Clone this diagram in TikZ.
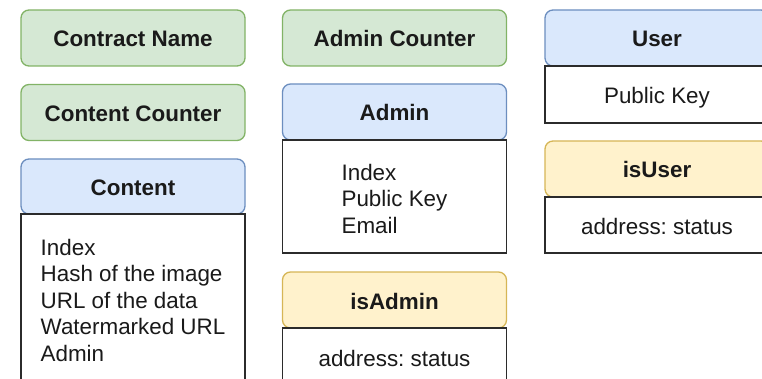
\documentclass[tikz,border=0pt]{standalone}
\usepackage{fontspec}
\setmainfont{Liberation Sans}
\definecolor{gfill}{HTML}{D5E8D4}
\definecolor{gline}{HTML}{82B366}
\definecolor{bfill}{HTML}{DAE8FC}
\definecolor{bline}{HTML}{6C8EBF}
\definecolor{yfill}{HTML}{FFF2CC}
\definecolor{yline}{HTML}{D6B656}
\definecolor{txt}{HTML}{1A1A1A}
\definecolor{bodyline}{HTML}{2B2B2B}
\frenchspacing
\begin{document}
\begin{tikzpicture}[x=1pt,y=-1pt,
  hdr/.style={draw, rounded corners=8pt, line width=1.3pt, minimum width=224pt, minimum height=56pt, inner sep=0pt, text=txt, text height=21pt, text depth=3pt, font=\fontsize{22.4}{26.5}\selectfont\bfseries},
  greenbox/.style={hdr, fill=gfill, draw=gline},
  bluebox/.style={hdr, fill=bfill, draw=bline},
  yellowbox/.style={hdr, fill=yfill, draw=yline},
  bodybox/.style={draw=bodyline, fill=white, line width=1.4pt, minimum width=224pt, inner sep=0pt, text=txt, font=\fontsize{22.4}{26.5}\selectfont},
  oneline/.style={text height=21pt, text depth=3pt},
  bodytext/.style={inner sep=0pt, text=txt, align=left, font=\fontsize{22.4}{26.5}\selectfont}]
\useasboundingbox (0,0) rectangle (762,379);
\clip (0,0) rectangle (762,379);
% column 1
\node[greenbox] (cname) at (133,38) {Contract Name};
\node[greenbox] (ccount) at (133,112.5) {Content Counter};
\node[bluebox, minimum height=55pt] (content) at (133,186.5) {Content};
\node[bodybox, minimum height=172pt] (contentb) at (133,300) {};
\node[bodytext] (contentt) at (133,300) {Index\\Hash of the image\\URL of the data\\Watermarked URL\\Admin};
% column 2
\node[greenbox] (acount) at (394.5,38) {Admin Counter};
\node[bluebox] (admin) at (394.5,112) {Admin};
\node[bodybox, minimum height=113pt] (adminb) at (394.5,196.5) {};
\node[bodytext] (admint) at (394.5,198.5) {Index\\Public Key\\Email};
\node[yellowbox] (isadmin) at (394.5,300) {isAdmin};
\node[bodybox, oneline, minimum height=58pt] (isadminb) at (394.5,357) {address: status};
% column 3
\node[bluebox] (user) at (657,38) {User};
\node[bodybox, oneline, minimum height=57pt] (userb) at (657,94.5) {Public Key};
\node[yellowbox] (isuser) at (657,169) {isUser};
\node[bodybox, oneline, minimum height=56pt] (isuserb) at (657,225) {address: status};
\end{tikzpicture}
\end{document}
